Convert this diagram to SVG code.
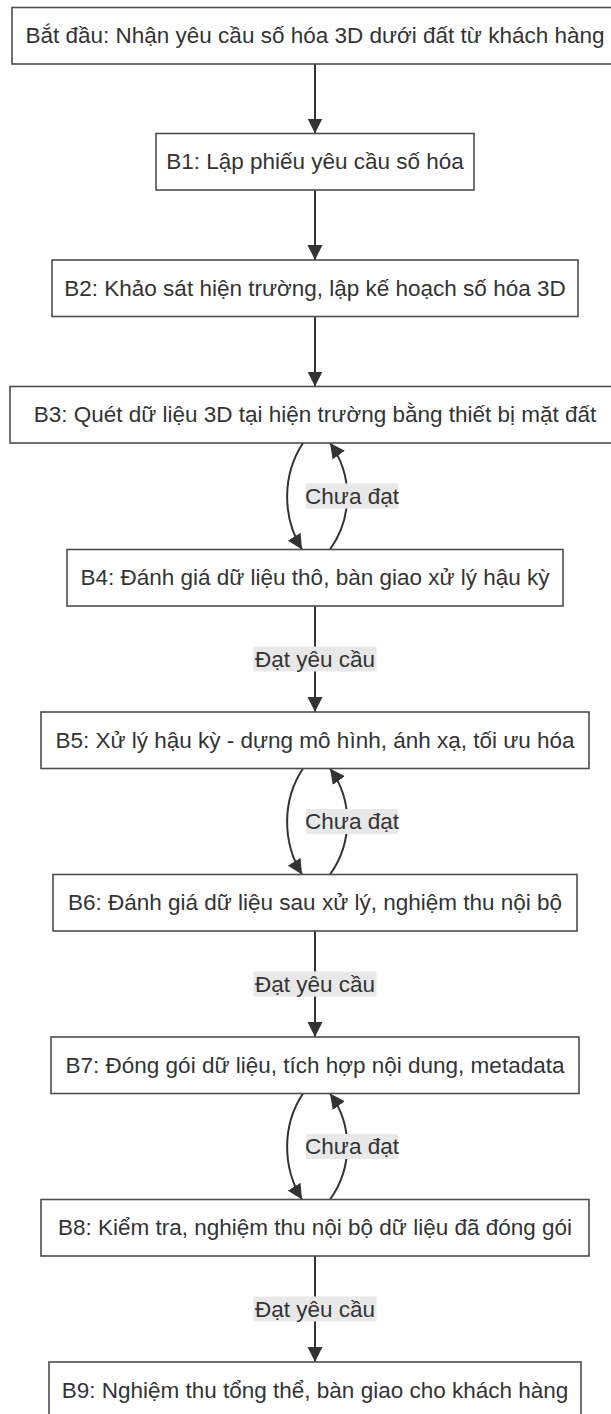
<svg xmlns="http://www.w3.org/2000/svg" width="611" height="1414" viewBox="0 0 611 1414">
<style>
.node rect{fill:#ffffff;stroke:#4d4d4d;stroke-width:1.6}
.node text,.lbl text{font-family:"Liberation Sans",Arial,sans-serif;font-size:22.5px;fill:#333333;text-anchor:middle;dominant-baseline:central}
.edge{fill:none;stroke:#333333;stroke-width:2}
.lbl rect{fill:#e8e8e8}
</style>
<defs>
<marker id="ah" viewBox="0 0 10 10" refX="10" refY="5" markerUnits="userSpaceOnUse" markerWidth="15" markerHeight="16" orient="auto">
<path d="M0,0 L10,5 L0,10 z" fill="#333333"/>
</marker>
</defs>
<rect width="611" height="1414" fill="#ffffff"/>
<g id="connectors">
<path class="edge" d="M315,64 L315,133.5" marker-end="url(#ah)"/>
<path class="edge" d="M315,190 L315,260" marker-end="url(#ah)"/>
<path class="edge" d="M315,316.5 L315,386.5" marker-end="url(#ah)"/>
<path class="edge" d="M303,443 C282,475 282,517 302,549.5" marker-end="url(#ah)"/>
<path class="edge" d="M330,549.5 C353,517 353,475 330,443" marker-end="url(#ah)"/>
<path class="edge" d="M315,606 L315,712" marker-end="url(#ah)"/>
<path class="edge" d="M303,768.5 C282,800 282,842 302,874.5" marker-end="url(#ah)"/>
<path class="edge" d="M330,874.5 C353,842 353,800 330,768.5" marker-end="url(#ah)"/>
<path class="edge" d="M315,931 L315,1037" marker-end="url(#ah)"/>
<path class="edge" d="M303,1093.5 C282,1125 282,1167 302,1199.5" marker-end="url(#ah)"/>
<path class="edge" d="M330,1199.5 C353,1167 353,1125 330,1093.5" marker-end="url(#ah)"/>
<path class="edge" d="M315,1256 L315,1362" marker-end="url(#ah)"/>
</g>
<g id="edge-labels">
<g class="lbl" id="lbl-b4-b3"><rect x="306" y="483.5" width="92" height="25"/><text x="352" y="496">Chưa đạt</text></g>
<g class="lbl" id="lbl-b4-b5"><rect x="253.5" y="646.5" width="123" height="25"/><text x="315" y="659">Đạt yêu cầu</text></g>
<g class="lbl" id="lbl-b6-b5"><rect x="306" y="809" width="92" height="25"/><text x="352" y="821.5">Chưa đạt</text></g>
<g class="lbl" id="lbl-b6-b7"><rect x="253.5" y="971.5" width="123" height="25"/><text x="315" y="984">Đạt yêu cầu</text></g>
<g class="lbl" id="lbl-b8-b7"><rect x="306" y="1134" width="92" height="25"/><text x="352" y="1146.5">Chưa đạt</text></g>
<g class="lbl" id="lbl-b8-b9"><rect x="253.5" y="1296.5" width="123" height="25"/><text x="315" y="1309">Đạt yêu cầu</text></g>
</g>
<g class="node" id="start"><rect x="12" y="7.5" width="606" height="56.5"/><text x="315" y="35.75">Bắt đầu: Nhận yêu cầu số hóa 3D dưới đất từ khách hàng</text></g>
<g class="node" id="b1"><rect x="156" y="133.5" width="318" height="56.5"/><text x="315" y="161.75">B1: Lập phiếu yêu cầu số hóa</text></g>
<g class="node" id="b2"><rect x="52" y="260" width="526" height="56.5"/><text x="315" y="288.25">B2: Khảo sát hiện trường, lập kế hoạch số hóa 3D</text></g>
<g class="node" id="b3"><rect x="10" y="386.5" width="610" height="56.5"/><text x="315" y="414.75">B3: Quét dữ liệu 3D tại hiện trường bằng thiết bị mặt đất</text></g>
<g class="node" id="b4"><rect x="67" y="549.5" width="496" height="56.5"/><text x="315" y="577.75">B4: Đánh giá dữ liệu thô, bàn giao xử lý hậu kỳ</text></g>
<g class="node" id="b5"><rect x="41" y="712" width="548" height="56.5"/><text x="315" y="740.25">B5: Xử lý hậu kỳ - dựng mô hình, ánh xạ, tối ưu hóa</text></g>
<g class="node" id="b6"><rect x="53" y="874.5" width="524" height="56.5"/><text x="315" y="902.75">B6: Đánh giá dữ liệu sau xử lý, nghiệm thu nội bộ</text></g>
<g class="node" id="b7"><rect x="51" y="1037" width="528" height="56.5"/><text x="315" y="1065.25">B7: Đóng gói dữ liệu, tích hợp nội dung, metadata</text></g>
<g class="node" id="b8"><rect x="41" y="1199.5" width="548" height="56.5"/><text x="315" y="1227.75">B8: Kiểm tra, nghiệm thu nội bộ dữ liệu đã đóng gói</text></g>
<g class="node" id="b9"><rect x="49" y="1362" width="532" height="56.5"/><text x="315" y="1390.25">B9: Nghiệm thu tổng thể, bàn giao cho khách hàng</text></g>
</svg>
